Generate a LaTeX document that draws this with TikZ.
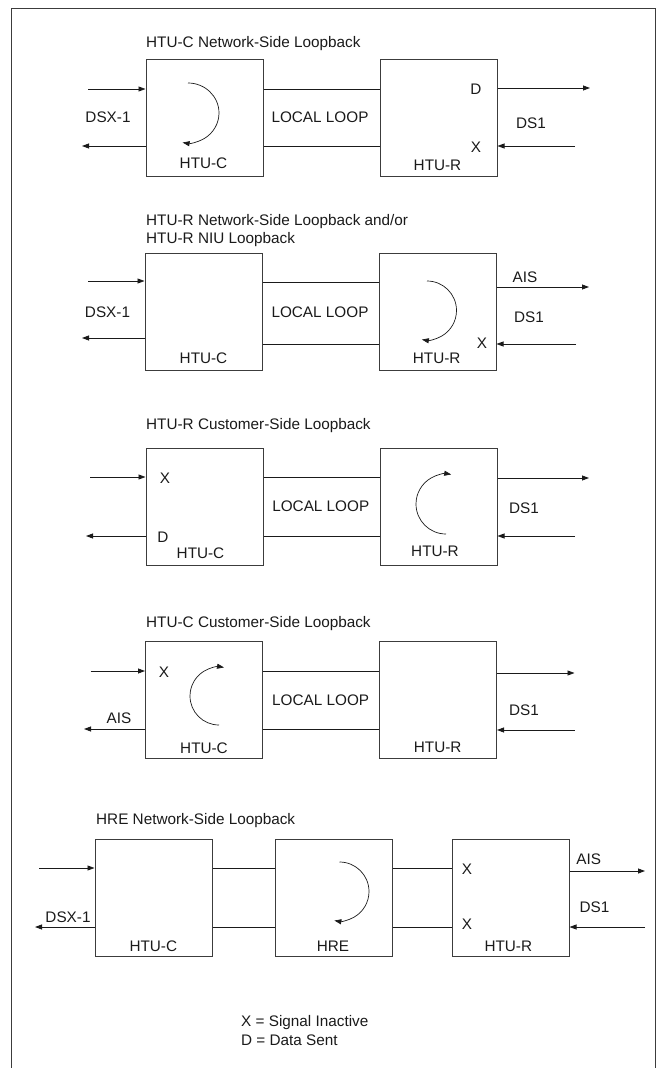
\documentclass[tikz,border=0pt]{standalone}
\usepackage{fontspec}
\setmainfont{Liberation Sans}
\usetikzlibrary{arrows.meta,positioning}
\definecolor{ink}{HTML}{1A1A1A}
\definecolor{edge}{HTML}{3C3C3C}

\begin{document}
\begin{tikzpicture}[
  x=1pt, y=-1pt,
  font=\fontsize{15.3}{18}\selectfont,
  blockbox/.style={draw=edge, line width=1pt, minimum width=117pt, minimum height=117pt, inner sep=0pt},
  lbl/.style={inner sep=0pt, text=ink},
  ttl/.style={inner sep=0pt, anchor=base west, text=ink},
  wire/.style={draw=ink, line width=0.8pt},
  arr/.style={wire, -{Triangle[length=7pt, width=5pt]}},
  loopback/.style={draw=ink, line width=0.7pt, -{Triangle[length=7pt, width=5pt]}}
]
\useasboundingbox (0,0) rectangle (660,1068);
\draw[draw=edge, line width=1pt] (11,1068) -- (11,8) -- (655,8) -- (655,1068);

% HTU-C network-side loopback
\node[ttl] (t1) at (146,47) {HTU-C Network-Side Loopback};
\node[blockbox] (c1) at (204.5,117.5) {};
\node[blockbox, right=116pt of c1] (r1) {};
\coordinate (in1) at (88,89);
\coordinate (out1) at (82,146);
\coordinate (rout1) at (590,88);
\coordinate (rin1) at (575,146);
\draw[arr] (in1) -- (c1.west |- in1);
\draw[arr] (c1.west |- out1) -- (out1);
\draw[wire] (c1.east |- in1) -- (r1.west |- in1);
\draw[wire] (c1.east |- out1) -- (r1.west |- out1);
\draw[arr] (r1.east |- rout1) -- (rout1);
\draw[arr] (rin1) -- (r1.east |- rin1);
\draw[loopback] (188,83) arc[start angle=-90, end angle=100, x radius=31, y radius=30];
\node[lbl] (dsx1) at (108,117) {DSX-1};
\node[lbl] (ll1) at (320,117) {LOCAL LOOP};
\node[lbl] (ds1a) at (531,123) {DS1};
\node[lbl] (d1) at (476,89) {D};
\node[lbl] (x1) at (476,147) {X};
\node[lbl] (lc1) at (203.5,163) {HTU-C};
\node[lbl] (lr1) at (437.5,165) {HTU-R};

% HTU-R network-side / NIU loopback
\node[ttl] (t2a) at (146,225) {HTU-R Network-Side Loopback and/or};
\node[ttl] (t2b) at (146,243) {HTU-R NIU Loopback};
\node[blockbox] (c2) at (203.5,311.5) {};
\node[blockbox, right=116pt of c2] (r2) {};
\coordinate (in2) at (88,281);
\coordinate (out2) at (82,338);
\coordinate (rout2) at (589,287);
\coordinate (rin2) at (576,344);
\draw[arr] (in2) -- (c2.west |- in2);
\draw[arr] (c2.west |- out2) -- (out2);
\draw[wire] ([yshift=29.5pt]c2.east) -- ([yshift=29.5pt]r2.west);
\draw[wire] ([yshift=-32.5pt]c2.east) -- ([yshift=-32.5pt]r2.west);
\draw[arr] (r2.east |- rout2) -- (rout2);
\draw[arr] (rin2) -- (r2.east |- rin2);
\draw[loopback] (427,281) arc[start angle=-90, end angle=100, radius=29.5];
\node[lbl] (dsx2) at (107.5,312) {DSX-1};
\node[lbl] (ll2) at (320,312) {LOCAL LOOP};
\node[lbl] (ais2) at (525,277) {AIS};
\node[lbl] (ds1b) at (529,317) {DS1};
\node[lbl] (x2) at (482,343) {X};
\node[lbl] (lc2) at (203.5,358) {HTU-C};
\node[lbl] (lr2) at (436.7,358) {HTU-R};

% HTU-R customer-side loopback
\node[ttl] (t3) at (146,429) {HTU-R Customer-Side Loopback};
\node[blockbox] (c3) at (204.5,506.5) {};
\node[blockbox, right=116pt of c3] (r3) {};
\coordinate (in3) at (90,477);
\coordinate (out3) at (86,536);
\coordinate (rout3) at (589,478);
\coordinate (rin3) at (575,536);
\draw[arr] (in3) -- (c3.west |- in3);
\draw[arr] (c3.west |- out3) -- (out3);
\draw[wire] (c3.east |- in3) -- (r3.west |- in3);
\draw[wire] (c3.east |- out3) -- (r3.west |- out3);
\draw[arr] (r3.east |- rout3) -- (rout3);
\draw[arr] (rin3) -- (r3.east |- rin3);
\draw[loopback] (446,534) arc[start angle=90, end angle=280, radius=30];
\node[lbl] (x3) at (165,478) {X};
\node[lbl] (d3) at (163,537) {D};
\node[lbl] (ll3) at (320.8,506) {LOCAL LOOP};
\node[lbl] (ds1c) at (524,508) {DS1};
\node[lbl] (lc3) at (200.5,553) {HTU-C};
\node[lbl] (lr3) at (435,551) {HTU-R};

% HTU-C customer-side loopback
\node[ttl] (t4) at (146,627) {HTU-C Customer-Side Loopback};
\node[blockbox] (c4) at (204,700) {};
\node[blockbox, right=116pt of c4] (r4) {};
\coordinate (in4) at (90.5,671);
\coordinate (out4) at (84,729);
\coordinate (rout4) at (574.5,673);
\coordinate (rin4) at (574.5,730);
\draw[arr] (in4) -- (c4.west |- in4);
\draw[arr] (c4.west |- out4) -- (out4);
\draw[wire] (c4.east |- in4) -- (r4.west |- in4);
\draw[wire] (c4.east |- out4) -- (r4.west |- out4);
\draw[arr] (r4.east |- rout4) -- (rout4);
\draw[arr] (rin4) -- (r4.east |- rin4);
\draw[loopback] (219,725) arc[start angle=90, end angle=280, radius=29];
\node[lbl] (x4) at (164,672) {X};
\node[lbl] (ais4) at (119,718) {AIS};
\node[lbl] (ll4) at (320.7,700) {LOCAL LOOP};
\node[lbl] (ds1d) at (524,710) {DS1};
\node[lbl] (lc4) at (204,748) {HTU-C};
\node[lbl] (lr4) at (437.7,747) {HTU-R};

% HRE network-side loopback
\node[ttl] (t5) at (96,824) {HRE Network-Side Loopback};
\node[blockbox] (c5) at (153.5,897.5) {};
\node[blockbox, right=62pt of c5] (h5) {};
\node[blockbox, right=59pt of h5] (r5) {};
\coordinate (in5) at (39,868);
\coordinate (out5) at (35,927);
\coordinate (rout5) at (645,871);
\coordinate (rin5) at (645,927);
\draw[arr] (in5) -- (c5.west |- in5);
\draw[arr] (c5.west |- out5) -- (out5);
\draw[wire] (c5.east |- in5) -- (h5.west |- in5);
\draw[wire] (c5.east |- out5) -- (h5.west |- out5);
\draw[wire] (h5.east |- in5) -- (r5.west |- in5);
\draw[wire] (h5.east |- out5) -- (r5.west |- out5);
\draw[arr] (r5.east |- rout5) -- (rout5);
\draw[arr] (rin5) -- (r5.east |- rin5);
\draw[loopback] (339.5,862) arc[start angle=-90, end angle=100, radius=29.5];
\node[lbl] (dsx5) at (68,917) {DSX-1};
\node[lbl] (x5a) at (467,869) {X};
\node[lbl] (x5b) at (467,924) {X};
\node[lbl] (ais5) at (588.7,859) {AIS};
\node[lbl] (ds1e) at (594.5,907) {DS1};
\node[lbl] (lc5) at (153.3,946.5) {HTU-C};
\node[lbl] (lh5) at (333,946.5) {HRE};
\node[lbl] (lr5) at (508.3,946) {HTU-R};

% legend
\node[lbl, anchor=west] (key1) at (241,1023) {X = Signal Inactive};
\node[lbl, anchor=west] (key2) at (241,1040) {D = Data Sent};
\end{tikzpicture}
\end{document}
